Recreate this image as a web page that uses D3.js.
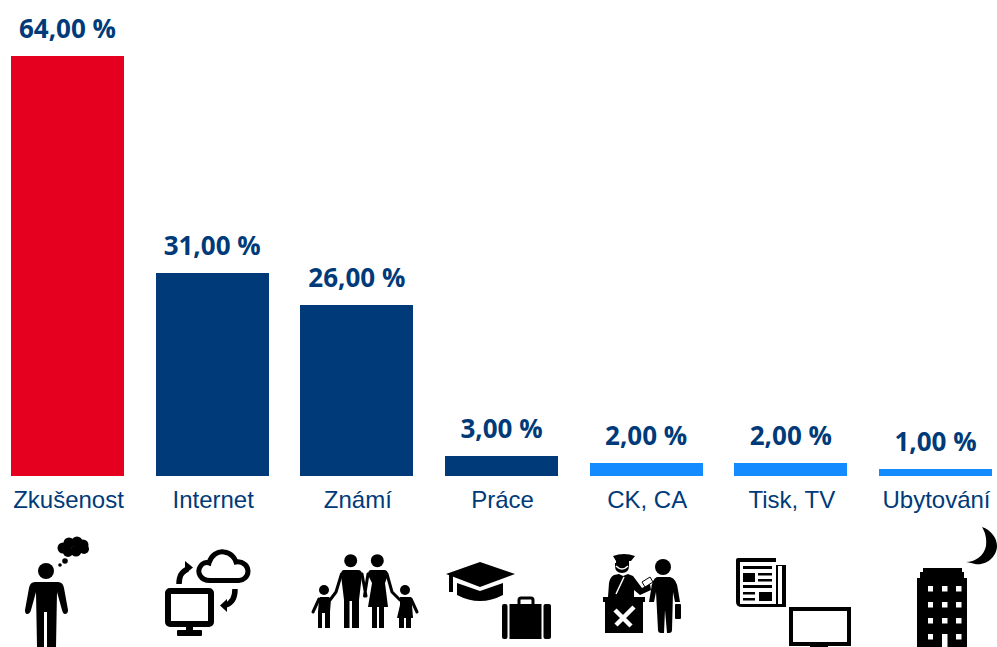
<!DOCTYPE html>
<html>
<head>
<meta charset="utf-8">
<script src="https://cdn.jsdelivr.net/npm/d3@7"></script>
<style>
  html, body { margin: 0; padding: 0; background: #fff; overflow: hidden; }
  .value { font-family: "Open Sans", sans-serif; font-weight: 700; font-size: 26px; fill: #003a78; }
  .tick text { font-family: "Liberation Sans", Arial, sans-serif; font-size: 24px; fill: #003a78; }
</style>
</head>
<body>
<div id="wrapper"></div>
<script>
const categories = ["Zkušenost", "Internet", "Známí", "Práce", "CK, CA", "Tisk, TV", "Ubytování"];
const values = [64, 31, 26, 3, 2, 2, 1];
const groups = ["top", "mid", "mid", "mid", "low", "low", "low"];

const width = 997;
const height = 647;
const baseline = 476;

const colorScale = d3.scaleOrdinal()
  .domain(["top", "mid", "low"])
  .range(["#e6001f", "#003a78", "#148cff"]);

// pictograms, drawn relative to the left edge of their bar
const icons = {
  "Zkušenost": `
    <circle cx="35" cy="571" r="8"/>
    <path d="M24,582H47Q52,582 53,588L57,610Q57,614 54,614Q52,614 51,610L46,592L45,647H36V612H33V647H26L25,592L20,610Q19,614 16,614Q14,614 14,610L18,588Q19,582 24,582Z"/>
    <circle cx="52" cy="548" r="5.5"/><circle cx="58" cy="543" r="5.5"/><circle cx="66" cy="542" r="5.5"/>
    <circle cx="72" cy="545" r="5.5"/><circle cx="73" cy="549" r="5"/><circle cx="65" cy="551" r="5.5"/><circle cx="57" cy="552" r="5"/>
    <circle cx="54" cy="561" r="2.8"/><circle cx="49" cy="565" r="1.8"/>`,
  "Internet": `
    <rect x="12" y="591" width="43" height="33" rx="2" fill="#fff" stroke="#000" stroke-width="6"/>
    <rect x="30" y="626" width="7" height="5"/><rect x="21" y="630" width="25" height="6" rx="1"/>
    <path d="M54,580.5C44,580.5 41,572 44,567C46,563 50,562 53,563C55,555 62,551 68,552C75,553 79,558 80,562C87,561 92,566 92,571C92,577 87,580.5 83,580.5Z" fill="#fff" stroke="#000" stroke-width="5"/>
    <path d="M23,584Q23,572 32,569" fill="none" stroke="#000" stroke-width="5.5"/><path d="M29,561L37,567.5L29,574Z"/>
    <path d="M79,589Q79,602 70,605" fill="none" stroke="#000" stroke-width="5.5"/><path d="M71,599L64,605.5L71,612Z"/>`,
  "Známí": `
    <circle cx="50.700" cy="560.700" r="6.500"/><circle cx="77.300" cy="560.700" r="6.500"/><circle cx="24" cy="590" r="5"/><circle cx="105" cy="590" r="5"/>
    <path d="M44,570H58Q62,570 62,575L59,600V628H52V601H49.500V628H44V600L41,575Q41,570 44,570Z"/>
    <path d="M71,570H84Q88,570 88,575L85,583L88,607H84V628H79V607H77V628H72V607H68L72,583L68,575Q68,570 71,570Z"/>
    <path d="M41.500,574L36,592L30,600M62,574L66,596M68,574L64.500,596M87,574L92,592L100,600" fill="none" stroke="#000" stroke-width="3" stroke-linecap="round" stroke-linejoin="round"/>
    <path d="M20,597H29L31,599L30,612V628H25V613H22V628H18V612L19,599Z"/>
    <path d="M19,599L13,612" fill="none" stroke="#000" stroke-width="3" stroke-linecap="round"/>
    <path d="M100,597H111L112,605L113,618H111V628H106V618H104V628H99V618H97L100,605Z"/>
    <path d="M111,599L117,612" fill="none" stroke="#000" stroke-width="3" stroke-linecap="round"/>`,
  "Práce": `
    <path d="M1,574L35,562L70,574L35,587Z"/>
    <rect x="4" y="574" width="4" height="18"/>
    <path d="M12,583L35,591L58,583V595Q35,607 12,595Z"/>
    <path d="M74,604V600Q74,598 76,598H86Q88,598 88,600V604" fill="none" stroke="#000" stroke-width="3"/>
    <rect x="57" y="604" width="5.500" height="35" rx="2"/><rect x="64.500" y="604" width="32" height="35"/><rect x="98.500" y="604" width="7.500" height="35" rx="2"/>`,
  "CK, CA": `
    <path d="M23,556Q34,552 45,556L41,561H39V563H26V561Z"/>
    <path d="M25,563H39V566Q39,573 32,573Q25,573 25,566Z"/>
    <path d="M26,566Q32,572 38,566" fill="none" stroke="#fff" stroke-width="1.500"/>
    <path d="M24,575L29,574L33,576L38,574L43,576L52,588L60,584L61,590L50,595L44,590V597H18L19,583Q20,577 24,575Z"/>
    <path d="M34,577L26,594" fill="none" stroke="#fff" stroke-width="1.500"/>
    <path d="M52,582L60,577L63,582L55,587Z" fill="#fff" stroke="#000" stroke-width="1"/>
    <path d="M13,597H55V602H53V633H15V602H13Z"/>
    <path d="M26,625L44,607M25,610L41,626" fill="none" stroke="#fff" stroke-width="4.500"/>
    <circle cx="73" cy="567" r="8"/>
    <path d="M67,577H80Q87,579 88,590L90,602H85L83,592L82,630Q82,633 79,633H77L75,610L74,633H71Q68,633 68,630L66,592L64,602H59L61,590Q62,579 67,577Z"/>
    <rect x="85" y="604" width="6" height="15" rx="1"/>`,
  "Tisk, TV": `
    <path d="M4,558H42V565H52V607H8Q2,607 2,602V560Q2,558 4,558Z" fill="#000"/>
    <rect x="6" y="562" width="36" height="42" fill="#fff"/><rect x="44" y="566" width="4" height="38" fill="#fff"/>
    <rect x="9" y="566" width="29" height="3"/><rect x="9" y="573" width="12" height="9"/><rect x="24" y="573" width="14" height="2.500"/><rect x="24" y="579" width="14" height="2.500"/>
    <rect x="9" y="585" width="29" height="3"/><rect x="9" y="592" width="12" height="2.500"/><rect x="9" y="598" width="12" height="2.500"/><rect x="25" y="592" width="13" height="9"/>
    <rect x="57" y="609" width="58" height="35" fill="#fff" stroke="#000" stroke-width="4"/>
    <rect x="76" y="644" width="18" height="3"/>`,
  "Ubytování": `
    <path fill-rule="evenodd" d="M44,568H83V572H85V578H88V647H38V578H41V572H44ZM49,586H54V591.500H49ZM63,586H68.500V591.500H63ZM77,586H82.500V591.500H77ZM49,602H54V607.500H49ZM63,602H68.500V607.500H63ZM77,602H82.500V607.500H77ZM49,618H54V623.500H49ZM63,618H68.500V623.500H63ZM77,618H82.500V623.500H77ZM49,634H54V639.500H49ZM63,634H68.500V647H63ZM77,634H82.500V639.500H77Z"/>
    <path d="M103,527C112,530 118,538 118,546C118,556 108,566 96,564C92,563 89,562 87,562C96,562 105,556 107,546C108,538 106,532 103,527Z"/>`
};

const svg = d3.select("#wrapper")
  .append("svg")
  .attr("width", width)
  .attr("height", height)
  .style("display", "block");

const defs = svg.append("defs");
defs.append("filter")
  .attr("id", "soft")
  .append("feGaussianBlur")
  .attr("stdDeviation", 0.4);

const xScale = d3.scaleBand()
  .domain(categories)
  .range([11, 992])
  .paddingInner(0.219)
  .paddingOuter(0);

const yScale = d3.scaleLinear()
  .domain([0, 64])
  .range([baseline, 56]);

const data = categories.map((c, i) => ({ category: c, value: values[i], group: groups[i] }));

svg.append("g")
  .classed("bars", true)
  .selectAll("rect")
  .data(data)
  .enter()
  .append("rect")
  .attr("x", (d) => Math.round(xScale(d.category)))
  .attr("y", (d) => Math.round(yScale(d.value)))
  .attr("width", Math.round(xScale.bandwidth()))
  .attr("height", (d) => baseline - Math.round(yScale(d.value)))
  .attr("fill", (d) => colorScale(d.group));

svg.append("g")
  .classed("values", true)
  .selectAll("text")
  .data(data)
  .enter()
  .append("text")
  .classed("value", true)
  .attr("x", (d) => xScale(d.category) + xScale.bandwidth() / 2)
  .attr("y", (d) => Math.round(yScale(d.value)) - 18)
  .attr("text-anchor", "middle")
  .text((d) => d3.format(".2f")(d.value).replace(".", ",") + " %");

const xAxis = d3.axisBottom(xScale).tickSize(0).tickPadding(15);
svg.append("g")
  .attr("transform", `translate(1,${baseline})`)
  .call(xAxis)
  .call((g) => g.select(".domain").remove());

svg.append("g")
  .classed("icons", true)
  .attr("filter", "url(#soft)")
  .selectAll("g")
  .data(data)
  .enter()
  .append("g")
  .attr("transform", (d) => `translate(${Math.round(xScale(d.category))},0)`)
  .html((d) => icons[d.category]);
</script>
</body>
</html>
